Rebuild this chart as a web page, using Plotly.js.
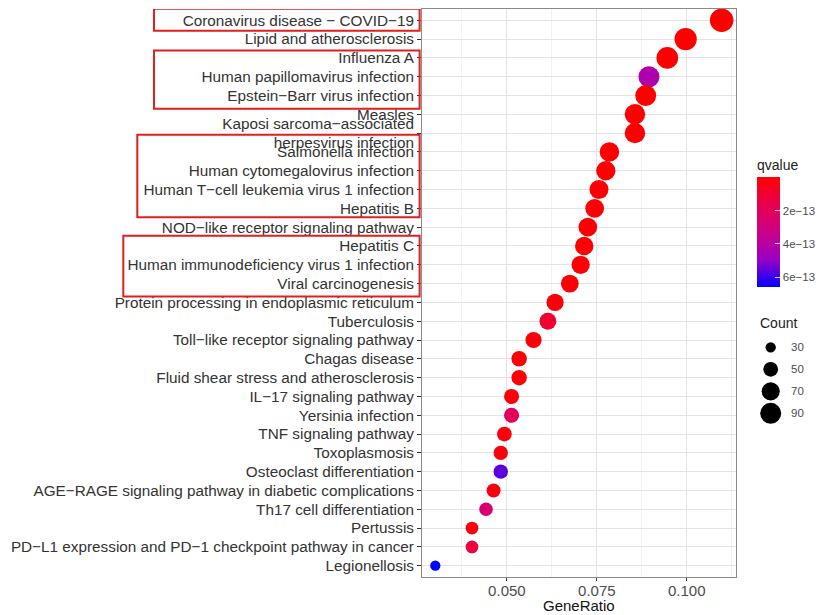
<!DOCTYPE html>
<html>
<head>
<meta charset="utf-8">
<script src="https://cdn.plot.ly/plotly-3.0.1.min.js"></script>
<style>html,body{margin:0;padding:0;background:#fff}#chart{width:821px;height:615px}</style>
</head>
<body>
<div id="chart"></div>
<script>
// Pathways, top to bottom
const pathways = [
  'Coronavirus disease − COVID−19',
  'Lipid and atherosclerosis',
  'Influenza A',
  'Human papillomavirus infection',
  'Epstein−Barr virus infection',
  'Measles',
  'Kaposi sarcoma−associated<br>herpesvirus infection',
  'Salmonella infection',
  'Human cytomegalovirus infection',
  'Human T−cell leukemia virus 1 infection',
  'Hepatitis B',
  'NOD−like receptor signaling pathway',
  'Hepatitis C',
  'Human immunodeficiency virus 1 infection',
  'Viral carcinogenesis',
  'Protein processing in endoplasmic reticulum',
  'Tuberculosis',
  'Toll−like receptor signaling pathway',
  'Chagas disease',
  'Fluid shear stress and atherosclerosis',
  'IL−17 signaling pathway',
  'Yersinia infection',
  'TNF signaling pathway',
  'Toxoplasmosis',
  'Osteoclast differentiation',
  'AGE−RAGE signaling pathway in diabetic complications',
  'Th17 cell differentiation',
  'Pertussis',
  'PD−L1 expression and PD−1 checkpoint pathway in cancer',
  'Legionellosis'
];
const geneRatio = [
  0.1097, 0.0997, 0.0946, 0.0895, 0.0886, 0.0856, 0.0856, 0.0785, 0.0775, 0.0756,
  0.0744, 0.0725, 0.0715, 0.0705, 0.0675, 0.0634, 0.0614, 0.0574, 0.0534, 0.0534,
  0.0513, 0.0513, 0.0493, 0.0483, 0.0483, 0.0463, 0.0442, 0.0403, 0.0403, 0.0301
];
const counts = [
  110, 100, 95, 90, 89, 86, 86, 79, 78, 76,
  74, 73, 72, 71, 68, 64, 62, 58, 54, 54,
  52, 52, 50, 48, 48, 46, 44, 40, 40, 30
];
const qvalues = [
  2.0e-17, 3.0e-16, 5.0e-16, 4.3e-13, 8.0e-16, 1.2e-15, 1.5e-15, 6.0e-15, 4.0e-15, 7.0e-15,
  9.0e-15, 1.1e-14, 1.3e-14, 1.0e-14, 1.5e-14, 2.0e-14, 1.0e-13, 1.8e-14, 1.2e-14, 1.6e-14,
  2.2e-14, 2.0e-13, 2.5e-14, 2.4e-14, 5.6e-13, 3.0e-14, 2.6e-13, 3.0e-14, 1.3e-13, 6.6e-13
];
const xTickVals = [0.050, 0.075, 0.100];
const xTickText = ['0.050', '0.075', '0.100'];
const xMinorVals = [0.0375, 0.0625, 0.0875, 0.1125];
const qTickVals = [2e-13, 4e-13, 6e-13];
const qTickText = ['2e\u221213', '4e\u221213', '6e\u221213'];
const countBreaks = [30, 50, 70, 90];
// Highlighted label groups: [first, last]
const highlightGroups = [
  ['Coronavirus disease − COVID−19', 'Coronavirus disease − COVID−19'],
  ['Influenza A', 'Epstein−Barr virus infection'],
  ['Salmonella infection', 'Hepatitis B'],
  ['Hepatitis C', 'Viral carcinogenesis']
];

// ggplot-like area scaling of point size
function sizeOf(c) { return Math.sqrt(Math.max(5.58 * c - 61.5, 16)); }

const colorscale = [
  [0, '#0000FF'], [0.25, '#9A00C3'], [0.5, '#CC0088'], [0.75, '#E8004F'], [1, '#FF0000']
];

const mainTrace = {
  type: 'scatter', mode: 'markers',
  x: geneRatio, y: pathways,
  xaxis: 'x', yaxis: 'y',
  marker: {
    size: counts.map(sizeOf),
    color: qvalues.map(q => -q),
    colorscale: colorscale,
    showscale: true,
    line: { width: 0 },
    opacity: 1,
    colorbar: {
      x: 0.8396, xanchor: 'left', y: 0.5100, yanchor: 'bottom',
      len: 131, lenmode: 'pixels', thickness: 23, thicknessmode: 'pixels',
      xpad: 0, ypad: 0, outlinewidth: 0,
      tickmode: 'array', tickvals: qTickVals.map(v => -v), ticktext: qTickText,
      ticks: 'inside', ticklen: 5, tickcolor: 'rgba(255,255,255,0.8)', tickwidth: 1,
      tickfont: { size: 11.5, color: '#4d4d4d' },
      title: { text: 'qvalue', side: 'top', font: { size: 14, color: '#222' } }
    }
  },
  showlegend: false, hoverinfo: 'x+y'
};

const sizeLegend = {
  type: 'scatter', mode: 'markers',
  x: countBreaks.map(() => 0), y: countBreaks.map((c, i) => i),
  xaxis: 'x2', yaxis: 'y2',
  marker: { size: countBreaks.map(sizeOf), color: '#000', opacity: 1, line: { width: 0 } },
  showlegend: false, hoverinfo: 'skip'
};

const shapes = highlightGroups.map((g, k) => {
  const i0 = pathways.indexOf(g[0]);
  const i1 = pathways.indexOf(g[1]);
  const padTop = [0.61, 0.39, 0.91, 0.55][k];
  const padBot = [0.56, 0.71, 0.47, 0.69][k];
  const left = [-0.6717, -0.6717, -0.7135, -0.7486][k];
  return {
    type: 'rect', xref: 'paper', yref: 'y',
    x0: left, x1: -0.006, y0: i0 - padTop, y1: i1 + padBot,
    line: { color: '#e01e1e', width: 2 }, fillcolor: 'rgba(0,0,0,0)', layer: 'above'
  };
});

const annotations = countBreaks.map((c, i) => ({
  xref: 'x2', yref: 'y2', x: 18, y: i, text: String(c), showarrow: false,
  xanchor: 'left', yanchor: 'middle', font: { size: 11.5, color: '#4d4d4d' }
}));
annotations.push({
  xref: 'paper', yref: 'paper', x: 0.842, y: 0.4477, text: 'Count', showarrow: false,
  xanchor: 'left', yanchor: 'middle', font: { size: 14, color: '#222' }
});
annotations.push({
  xref: 'paper', yref: 'paper', x: 0.3935, y: -0.0667, text: 'GeneRatio', showarrow: false,
  xanchor: 'center', yanchor: 'bottom', borderpad: 0, font: { size: 15, color: '#111' }
});

const layout = {
  width: 821, height: 615,
  margin: { l: 422, r: 0, t: 9, b: 38, pad: 0 },
  paper_bgcolor: '#fff', plot_bgcolor: '#fff',
  font: { family: 'Liberation Sans, Arial, sans-serif', color: '#333' },
  showlegend: false,
  xaxis: {
    domain: [0, 0.787], range: [0.0264, 0.1137], automargin: false,
    tickmode: 'array', tickvals: xTickVals, ticktext: xTickText,
    ticks: 'outside', ticklen: 3, tickcolor: '#333', tickwidth: 1,
    ticklabelstandoff: -3,
    showline: true, mirror: true, linecolor: '#8a8a8a', linewidth: 1,
    showgrid: true, gridcolor: '#e4e4e4', gridwidth: 1, zeroline: false,
    minor: { tickmode: 'array', tickvals: xMinorVals, showgrid: true, gridcolor: '#f2f2f2', gridwidth: 1 },
    tickfont: { size: 15, color: '#4d4d4d' }
  },
  yaxis: {
    type: 'category', categoryorder: 'array', categoryarray: pathways,
    range: [29.6, -0.6], automargin: false,
    ticks: 'outside', ticklen: 4, tickcolor: '#333', tickwidth: 1,
    showline: true, mirror: true, linecolor: '#8a8a8a', linewidth: 1,
    showgrid: true, gridcolor: '#e4e4e4', gridwidth: 1, zeroline: false,
    tickfont: { size: 15.3, color: '#333' }
  },
  xaxis2: { domain: [0.8396, 1], range: [-13.7, 50.3], anchor: 'y2', visible: false, fixedrange: true },
  yaxis2: { domain: [0.2688, 0.4238], range: [3.5, -0.5], anchor: 'x2', visible: false, fixedrange: true },
  shapes: shapes,
  annotations: annotations
};

Plotly.newPlot('chart', [mainTrace, sizeLegend], layout, { displayModeBar: false, staticPlot: true });
</script>
</body>
</html>
